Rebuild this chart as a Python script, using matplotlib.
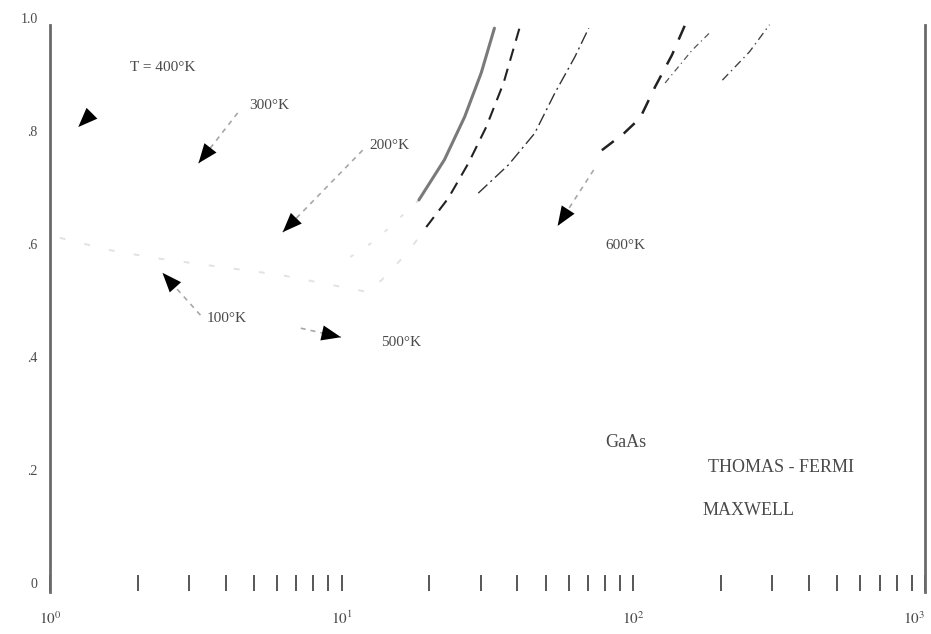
import matplotlib
matplotlib.use("Agg")
import matplotlib.pyplot as plt
from matplotlib.ticker import FixedLocator, NullFormatter

plt.rcParams["font.family"] = ["Liberation Serif", "DejaVu Serif"]
plt.rcParams["mathtext.fontset"] = "stix"

# Curves (carrier density on x, ratio on y); the first points of the two
# leftmost curves are the faint low-density branches.
tf_x = [10.7, 13.1, 18.4, 22.5, 26.4, 30.1, 33.4]
tf_y = [0.577, 0.607, 0.678, 0.749, 0.825, 0.903, 0.982]
tf_faint = 2

mb_x = [1.08, 1.61, 2.3, 6.2, 12.3, 13.7, 16.9, 19.5, 23.2, 27.2, 31.3, 35.9, 40.7]
mb_y = [0.611, 0.589, 0.575, 0.545, 0.515, 0.536, 0.586, 0.630, 0.681, 0.743, 0.807, 0.885, 0.982]
mb_faint = 7

c3_x = [29.4, 37.3, 45.9, 53.8, 63.0, 70.3]
c3_y = [0.690, 0.740, 0.796, 0.867, 0.931, 0.982]

c4_x = [78.0, 92.9, 105.5, 118.7, 135.8, 150.5]
c4_y = [0.766, 0.796, 0.823, 0.878, 0.935, 0.988]

c5_x = [128.5, 159.0, 182.0]
c5_y = [0.885, 0.943, 0.973]

c6_x = [202.0, 250.0, 293.0]
c6_y = [0.890, 0.940, 0.988]

temp_labels = ["T = 400°K", "300°K", "200°K", "100°K", "500°K", "600°K"]
x_tick_values = [1, 10, 100, 1000]
x_tick_labels = [r"$10^{0}$", r"$10^{1}$", r"$10^{2}$", r"$10^{3}$"]
y_tick_values = [0.0, 0.2, 0.4, 0.6, 0.8, 1.0]
y_tick_labels = ["0", ".2", ".4", ".6", ".8", "1.0"]

W, H = 931, 634
fig = plt.figure(figsize=(W / 100, H / 100), dpi=100)
ax = fig.add_axes([50 / W, 51 / H, 875 / W, 565 / H])
ax.set_xscale("log")
ax.set_xlim(1, 1000)
ax.set_ylim(0, 1)

faint = "#e2e2e2"
# faint low-density branches
ax.plot(tf_x[:tf_faint + 1], tf_y[:tf_faint + 1], color=faint, lw=1.4, ls=(0, (2, 9)))
ax.plot(mb_x[:mb_faint + 1], mb_y[:mb_faint + 1], color=faint, lw=1.4, ls=(0, (3, 10)))

# visible branches
ax.plot(tf_x[tf_faint:], tf_y[tf_faint:], color="#7a7a7a", lw=2.2, solid_capstyle="round")
ax.plot(mb_x[mb_faint:], mb_y[mb_faint:], color="#222222", lw=1.5, ls=(0, (6, 4)))
ax.plot(c3_x, c3_y, color="#333333", lw=1.0, ls=(0, (9, 3, 1.5, 3)))
ax.plot(c4_x, c4_y, color="#222222", lw=1.8, ls=(0, (6, 5)))
ax.plot(c5_x, c5_y, color="#555555", lw=0.9, ls=(0, (5, 3, 1, 3)))
ax.plot(c6_x, c6_y, color="#444444", lw=1.0, ls=(0, (6, 3, 1, 3)))

# temperature labels with arrows: (label pos, arrow tail, arrow tip, shaft?)
arrows = [
    ((1.88, 0.912), (1.88, 0.899), (1.25, 0.807), False),
    ((4.80, 0.846), (4.40, 0.832), (3.23, 0.743), True),
    ((12.4, 0.775), (11.8, 0.766), (6.28, 0.621), True),
    ((3.44, 0.469), (3.28, 0.474), (2.43, 0.549), True),
    ((13.6, 0.425), (7.24, 0.451), (9.95, 0.435), True),
    ((79.9, 0.598), (73.1, 0.731), (55.0, 0.632), True),
]
for text, (lpos, tail, tip, shaft) in zip(temp_labels, arrows):
    ax.text(lpos[0], lpos[1], text, fontsize=11, color="#4a4a4a",
            ha="left", va="center")
    if shaft:
        ax.plot([tail[0], tip[0]], [tail[1], tip[1]], color="#a8a8a8",
                lw=1.2, ls=(0, (3, 3)))
    ax.annotate("", xy=tip, xytext=tail,
                arrowprops=dict(arrowstyle="-|>,head_length=1.4,head_width=0.55",
                                color="black", lw=0, shrinkA=0, shrinkB=0,
                                mutation_scale=10))

ax.text(79.9, 0.248, "GaAs", fontsize=13, color="#4a4a4a", ha="left", va="center")
ax.text(181, 0.205, "THOMAS - FERMI", fontsize=13, color="#4a4a4a", ha="left", va="center")
ax.text(172, 0.129, "MAXWELL", fontsize=13, color="#4a4a4a", ha="left", va="center")

# axes frame: only the two vertical sides are drawn
for side in ("top", "bottom"):
    ax.spines[side].set_visible(False)
for side in ("left", "right"):
    ax.spines[side].set_color("#6a6a6a")
    ax.spines[side].set_linewidth(2.0)
    ax.spines[side].set_bounds(-0.016, 0.988)

ax.xaxis.set_major_locator(FixedLocator(x_tick_values))
ax.set_xticklabels(x_tick_labels)
minor = [m * d for d in (1, 10, 100) for m in range(2, 10)]
ax.xaxis.set_minor_locator(FixedLocator(minor))
ax.xaxis.set_minor_formatter(NullFormatter())
ax.tick_params(axis="x", which="both", direction="inout", length=11, width=1.2,
               color="#3a3a3a", bottom=True, top=False)
ax.tick_params(axis="x", which="major", pad=14, labelsize=11, labelcolor="#4a4a4a")
# keep the last decade label inside the figure
xlabels = ax.get_xticklabels()
xlabels[-1].set_horizontalalignment("right")

ax.set_yticks(y_tick_values)
ax.set_yticklabels(y_tick_labels)
ax.tick_params(axis="y", which="both", length=0, pad=9, labelsize=10,
               labelcolor="#4a4a4a", right=False)

fig.savefig("out.png", dpi=100, facecolor="white")
